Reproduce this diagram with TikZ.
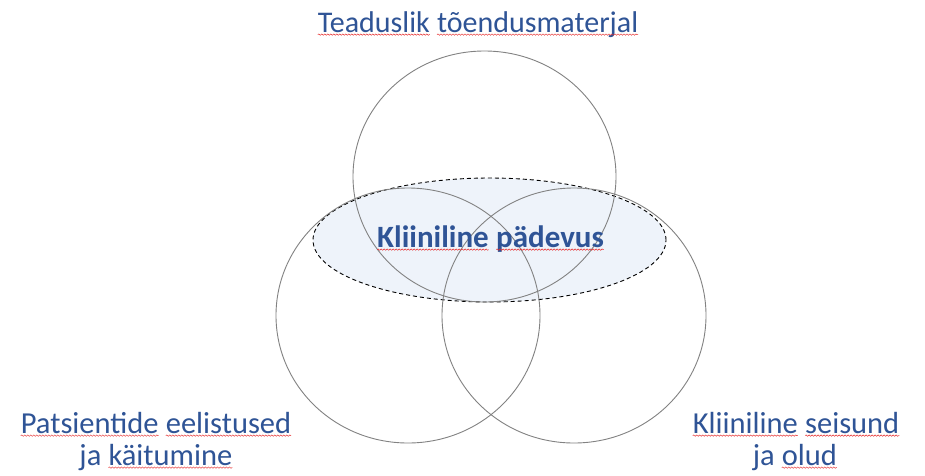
\documentclass[tikz,border=0pt]{standalone}
\usepackage{fontspec}
\setmainfont{Carlito}
\usetikzlibrary{decorations.pathmorphing}
\definecolor{txtblue}{RGB}{47,84,150}
\definecolor{ellfill}{RGB}{238,243,250}
\definecolor{circgray}{RGB}{130,130,130}
\definecolor{spellred}{RGB}{230,40,40}
\newcommand\wv[1]{\tikz[baseline=(w.base)]{\node[inner sep=0pt,outer sep=0pt] (w) {#1};\draw[spellred,line width=0.45pt,decorate,decoration={snake,amplitude=0.7pt,segment length=3pt}] ([yshift=-2.6pt]w.base west) -- ([yshift=-2.6pt]w.base east);}}
\tikzset{
  circ/.style={draw=circgray,line width=0.9pt},
  zone/.style={draw=black,fill=ellfill,line width=0.9pt,dash pattern=on 4pt off 3pt},
  lbl/.style={text=txtblue,inner sep=0pt,outer sep=0pt},
  big/.style={font=\fontsize{30}{36}\selectfont},
  mid/.style={font=\fontsize{31}{36}\selectfont\bfseries},
  small/.style={font=\fontsize{30.5}{35}\selectfont}
}
\begin{document}
\begin{tikzpicture}[x=1pt,y=-1pt]
\useasboundingbox (0,0) rectangle (925,475);
\fill[white] (0,0) rectangle (925,475);
\draw[zone] (489.5,240) ellipse [x radius=176.5pt, y radius=62pt];
\draw[circ] (484.5,176.5) ellipse [x radius=131.5pt, y radius=125.5pt];
\draw[circ] (408,315.5) ellipse [x radius=132pt, y radius=127.5pt];
\draw[circ] (574,315.5) ellipse [x radius=132pt, y radius=127.5pt];
\node[lbl,big,anchor=base] (top) at (478,32) {\wv{Teaduslik} \wv{tõendusmaterjal}};
\node[lbl,mid,anchor=base west] (mid) at (377,247) {\wv{Kliiniline} \wv{pädevus}};
\node[lbl,small,anchor=base] (l1) at (156,433) {\wv{Patsientide} \wv{eelistused}};
\node[lbl,small,anchor=base] (l2) at (156,465) {ja \wv{käitumine}};
\node[lbl,small,anchor=base] (r1) at (796,433) {\wv{Kliiniline} \wv{seisund}};
\node[lbl,small,anchor=base] (r2) at (795,465) {ja \wv{olud}};
\end{tikzpicture}
\end{document}
